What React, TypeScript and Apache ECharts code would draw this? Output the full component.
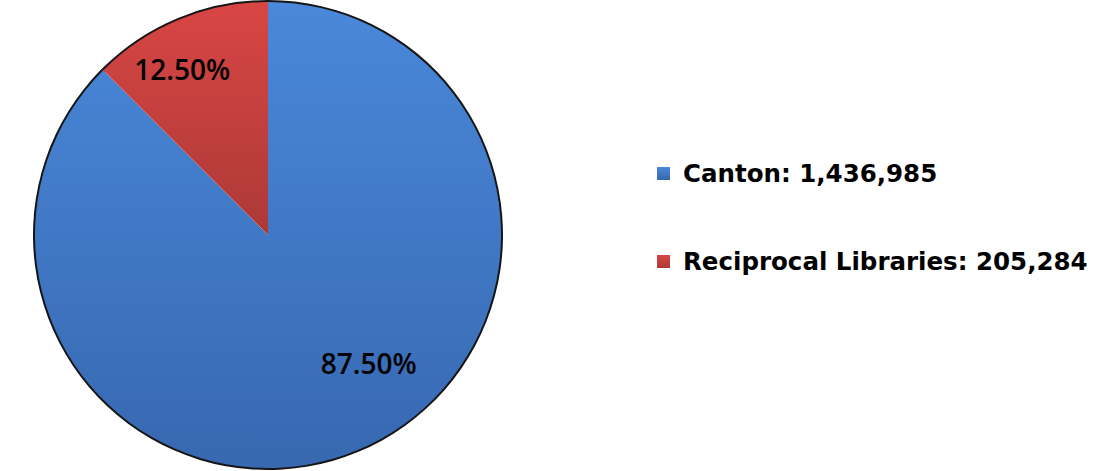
import React, { useEffect, useRef } from "react";
import * as echarts from "echarts";

const categories = ["Canton", "Reciprocal Libraries"];
const values = [1436985, 205284];
const baseColors = [
  ["#4a88da", "#3768b0"],
  ["#d84644", "#ad3937"],
];

const fmt = (n: number) => n.toLocaleString("en-US");

export default function App() {
  const ref = useRef<HTMLDivElement>(null);
  useEffect(() => {
    if (!ref.current) return;
    const chart = echarts.init(ref.current, null, { renderer: "svg" });
    const data = categories.map((name, i) => ({
      name,
      value: values[i],
      itemStyle: {
        color: new echarts.graphic.LinearGradient(0, 0, 0, 1, [
          { offset: 0, color: baseColors[i][0] },
          { offset: 1, color: baseColors[i][1] },
        ]),
      },
    }));
    const valueByName: Record<string, number> = {};
    categories.forEach((c, i) => (valueByName[c] = values[i]));
    chart.setOption({
      animation: false,
      legend: {
        orient: "vertical",
        left: 652,
        top: 156,
        itemWidth: 13,
        itemHeight: 13,
        itemGap: 63,
        icon: "rect",
        data: categories,
        formatter: (name: string) => `${name}: ${fmt(valueByName[name])}`,
        textStyle: {
          fontFamily: "DejaVu Sans",
          fontWeight: "bold",
          fontSize: 24.5,
          color: "#000",
          lineHeight: 24,
          padding: [0, 0, 0, 8],
        },
        itemStyle: { borderWidth: 0 },
      },
      series: [
        {
          type: "pie",
          name: "main",
          center: [268, 235],
          radius: [0, 233],
          startAngle: 90,
          clockwise: true,
          z: 3,
          data,
          itemStyle: {
            borderWidth: 0,
          },
          label: {
            show: true,
            position: "inside",
            formatter: (p: any) => p.percent.toFixed(2) + "%",
            fontFamily: "Open Sans",
            fontWeight: 600,
            fontSize: 28,
            color: "#000",
          },
          labelLayout: (p: any) => {
            return p.dataIndex === 0 ? { dx: 55, dy: 18 } : { dx: -40, dy: -56 };
          },
          emphasis: { disabled: true },
        },
        {
          type: "pie",
          name: "outline",
          center: [268, 235],
          radius: [231, 235],
          startAngle: 90,
          clockwise: true,
          silent: true,
          z: 2,
          data: categories.map((name, i) => ({ name, value: values[i] })),
          itemStyle: { color: "#151515", borderWidth: 0 },
          label: { show: false },
          labelLine: { show: false },
          emphasis: { disabled: true },
        },
      ],
    });
    return () => chart.dispose();
  }, []);
  return (
    <div
      ref={ref}
      style={{ position: "absolute", left: 0, top: 0, width: 1094, height: 471 }}
    />
  );
}
